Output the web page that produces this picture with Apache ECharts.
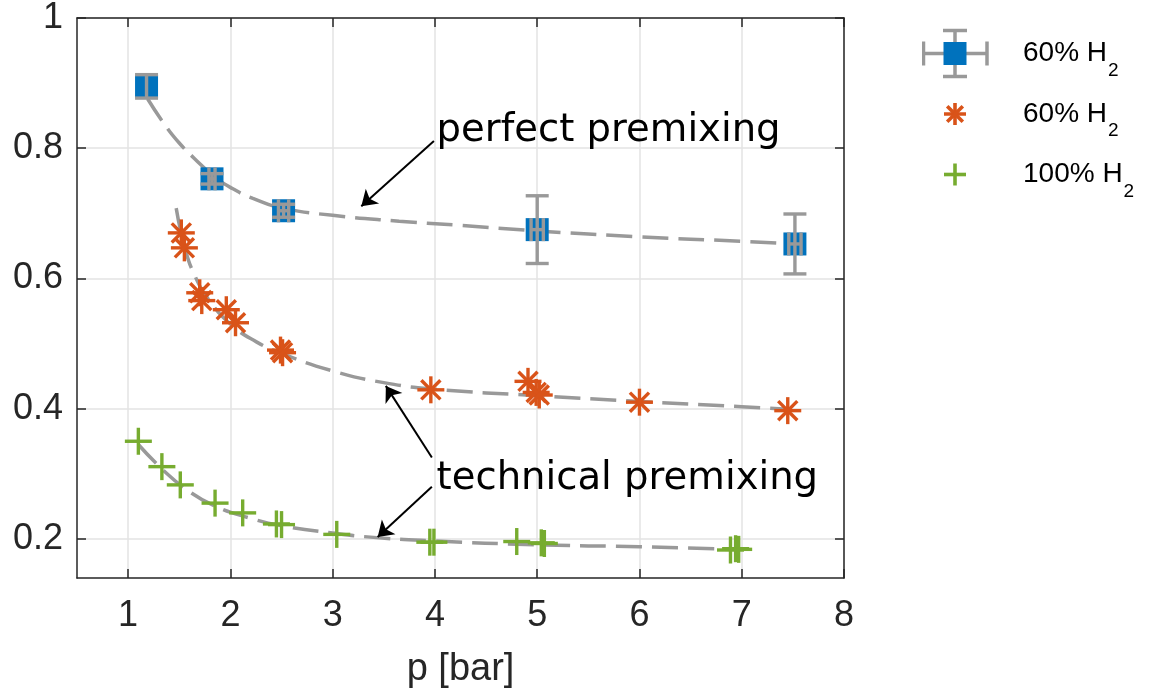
<!DOCTYPE html>
<html><head><meta charset="utf-8">
<script src="https://cdn.jsdelivr.net/npm/echarts@6/dist/echarts.min.js"></script>
<style>html,body{margin:0;padding:0;background:#fff;}#c{width:1159px;height:694px;}</style>
</head><body><div id="c"></div>
<script>
// ---- tick labels ----
const xTicks = [1, 2, 3, 4, 5, 6, 7, 8];
const yTicks = [0.2, 0.4, 0.6, 0.8, 1];

// ---- perfect premixing, 60% H2 (squares with error bars) ----
const perfX    = [1.18, 1.82, 2.52, 5.00, 7.52];
const perfY    = [0.895, 0.753, 0.704, 0.675, 0.653];
const perfXErr = [0.00, 0.03, 0.05, 0.06, 0.06];
const perfYErr = [0.018, 0.008, 0.010, 0.052, 0.046];

// ---- technical premixing, 60% H2 (asterisks) ----
const t60X = [1.52, 1.55, 1.70, 1.72, 1.96, 2.05, 2.49, 2.51, 3.96, 4.91, 4.99, 5.02, 6.00, 7.45];
const t60Y = [0.670, 0.647, 0.578, 0.566, 0.552, 0.532, 0.490, 0.486, 0.429, 0.442, 0.425, 0.421, 0.410, 0.397];

// ---- technical premixing, 100% H2 (pluses) ----
const t100X = [1.10, 1.33, 1.51, 1.85, 2.12, 2.45, 2.50, 3.04, 3.95, 3.99, 4.80, 5.04, 5.07, 6.89, 6.94, 6.97];
const t100Y = [0.350, 0.311, 0.283, 0.255, 0.240, 0.223, 0.222, 0.207, 0.195, 0.195, 0.196, 0.194, 0.193, 0.183, 0.185, 0.184];

// ---- fitted curves ----
const perfFitX = [1.19, 1.35, 1.50, 1.65, 1.83, 2.02, 2.22, 2.51, 3.00, 3.65, 4.20, 5.00, 6.00, 7.00, 7.50];
const perfFitY = [0.876, 0.838, 0.808, 0.784, 0.758, 0.738, 0.723, 0.708, 0.697, 0.688, 0.682, 0.673, 0.664, 0.657, 0.653];
const t60FitX = [1.47, 1.55, 1.65, 1.80, 2.00, 2.25, 2.50, 3.00, 3.50, 4.00, 5.00, 6.00, 7.00, 7.45];
const t60FitY = [0.708, 0.650, 0.605, 0.565, 0.530, 0.503, 0.485, 0.458, 0.440, 0.430, 0.420, 0.411, 0.403, 0.399];
const t100FitX = [1.10, 1.34, 1.57, 1.83, 2.19, 2.51, 3.00, 3.43, 3.98, 5.00, 6.00, 6.97];
const t100FitY = [0.345, 0.306, 0.276, 0.252, 0.232, 0.220, 0.209, 0.202, 0.197, 0.191, 0.188, 0.184];

// ---- annotations ----
const annoTexts = ['perfect premixing', 'technical premixing'];
const annoTextAt = [[4.016, 0.827], [4.016, 0.292]];
const annoArrows = [
  [[3.99, 0.811], [3.28, 0.711]],
  [[3.97, 0.325], [3.52, 0.435]],
  [[3.97, 0.280], [3.44, 0.203]]
];

// ---- legend ----
const seriesNames = ['pp60', 'tp60', 'tp100'];
const legendLabels = ['60% H{s|2}', '60% H{s|2}', '100% H{s|2}'];

const BLUE = '#0072BD', ORANGE = '#D95319', GREEN = '#77AC30', GRAY = '#999999', AX = '#262626';

function zip(a, b) { return a.map((v, i) => [v, b[i]]); }

function svgIcon(inner) {
  return 'image://data:image/svg+xml;charset=utf-8,' + encodeURIComponent(
    '<svg xmlns="http://www.w3.org/2000/svg" width="96" height="53" viewBox="0 0 96 53">' + inner + '</svg>');
}
const iconPerf = svgIcon(
  '<g stroke="' + GRAY + '" stroke-width="3.5" fill="none">' +
  '<line x1="1.5" y1="26.5" x2="65" y2="26.5"/><line x1="1.5" y1="14.5" x2="1.5" y2="38.5"/><line x1="65" y1="14.5" x2="65" y2="38.5"/>' +
  '<line x1="33" y1="3.5" x2="33" y2="49.5"/><line x1="21" y1="3.5" x2="45" y2="3.5"/><line x1="21" y1="49.5" x2="45" y2="49.5"/></g>' +
  '<rect x="21.5" y="15" width="23" height="23" fill="' + BLUE + '"/>');
const iconAst = svgIcon(
  '<g stroke="' + ORANGE + '" stroke-width="3.6">' +
  '<line x1="22" y1="26.5" x2="44" y2="26.5"/><line x1="33" y1="15.5" x2="33" y2="37.5"/>' +
  '<line x1="25.2" y1="18.7" x2="40.8" y2="34.3"/><line x1="25.2" y1="34.3" x2="40.8" y2="18.7"/></g>');
const iconPlus = svgIcon(
  '<g stroke="' + GREEN + '" stroke-width="3.6">' +
  '<line x1="22" y1="26.5" x2="44" y2="26.5"/><line x1="33" y1="15.5" x2="33" y2="37.5"/></g>');
const legendIcons = [iconPerf, iconAst, iconPlus];

function markerItem(kind, color) {
  return function (params, api) {
    const p = api.coord([api.value(0), api.value(1)]);
    const r = 13.5, d = r * 0.7071;
    const style = { stroke: color, lineWidth: 3.4, fill: null };
    const segs = [[-r, 0, r, 0], [0, -r, 0, r]];
    if (kind === 'ast') { segs.push([-d, -d, d, d], [-d, d, d, -d]); }
    return {
      type: 'group',
      children: segs.map(s => ({ type: 'line', shape: { x1: p[0] + s[0], y1: p[1] + s[1], x2: p[0] + s[2], y2: p[1] + s[3] }, style }))
    };
  };
}

function errItem(params, api) {
  const x = api.value(0), y = api.value(1), ex = api.value(2), ey = api.value(3);
  const c = api.coord([x, y]);
  const t = api.coord([x, y + ey]), b = api.coord([x, y - ey]);
  const l = api.coord([x - ex, y]), r = api.coord([x + ex, y]);
  const w = 11.5, h = 11.5;
  const style = { stroke: GRAY, lineWidth: 3.4, fill: null };
  const segs = [
    [c[0], t[1], c[0], b[1]], [c[0] - w, t[1], c[0] + w, t[1]], [c[0] - w, b[1], c[0] + w, b[1]]
  ];
  if (ex > 0) {
    segs.push([l[0], c[1], r[0], c[1]], [l[0], c[1] - h, l[0], c[1] + h], [r[0], c[1] - h, r[0], c[1] + h]);
  }
  return { type: 'group', children: segs.map(s => ({ type: 'line', shape: { x1: s[0], y1: s[1], x2: s[2], y2: s[3] }, style })) };
}

const fitStyle = { color: GRAY, width: 3.5, type: [26, 10] };
function fitSeries(name, xs, ys, extra) {
  return Object.assign({
    name: name, type: 'line', data: zip(xs, ys), showSymbol: false, symbol: 'none',
    smooth: 0.5, lineStyle: fitStyle, z: 2, silent: true, animation: false
  }, extra || {});
}

const axisCommon = {
  axisLine: { show: true, onZero: false, lineStyle: { color: AX, width: 1.5 } },
  axisTick: { show: true, inside: true, length: 9, lineStyle: { color: AX, width: 1.5 } }
};
const tickFont = { fontFamily: 'Liberation Sans', fontSize: 36, color: AX };

const option = {
  animation: false,
  backgroundColor: '#fff',
  grid: { left: 77, right: 315, top: 18, bottom: 115, containLabel: false },
  xAxis: [
    Object.assign({}, axisCommon, {
      type: 'value', min: 0.5, max: 8, position: 'bottom',
      name: 'p [bar]', nameLocation: 'middle', nameGap: 73,
      nameTextStyle: { fontFamily: 'Liberation Sans', fontSize: 38, color: AX },
      axisTick: Object.assign({}, axisCommon.axisTick, { customValues: xTicks }),
      axisLabel: Object.assign({ customValues: xTicks, margin: 20 }, tickFont),
      splitLine: { show: true, lineStyle: { color: '#e3e3e3', width: 1.5 } }
    }),
    Object.assign({}, axisCommon, {
      type: 'value', min: 0.5, max: 8, position: 'top',
      axisTick: Object.assign({}, axisCommon.axisTick, { customValues: xTicks }),
      axisLabel: { show: false, customValues: xTicks },
      splitLine: { show: false }
    })
  ],
  yAxis: [
    Object.assign({}, axisCommon, {
      type: 'value', min: 0.14, max: 1, position: 'left',
      axisTick: Object.assign({}, axisCommon.axisTick, { customValues: yTicks }),
      axisLabel: Object.assign({ customValues: yTicks, margin: 14, formatter: v => String(+v.toFixed(2)) }, tickFont),
      splitLine: { show: true, lineStyle: { color: '#e3e3e3', width: 1.5 } }
    }),
    Object.assign({}, axisCommon, {
      type: 'value', min: 0.14, max: 1, position: 'right',
      axisTick: Object.assign({}, axisCommon.axisTick, { customValues: yTicks }),
      axisLabel: { show: false, customValues: yTicks },
      splitLine: { show: false }
    })
  ],
  legend: {
    orient: 'vertical', left: 922, top: 27, padding: 0, itemWidth: 96, itemHeight: 53, itemGap: 7.5,
    selectedMode: false,
    data: seriesNames.map((n, i) => ({ name: n, icon: legendIcons[i] })),
    formatter: name => legendLabels[seriesNames.indexOf(name)],
    textStyle: {
      fontFamily: 'Liberation Sans', fontSize: 28, color: '#000',
      rich: { s: { fontFamily: 'Liberation Sans', fontSize: 19, color: '#000', padding: [34, 0, 0, 1] } }
    }
  },
  series: [
    fitSeries('fitPerf', perfFitX, perfFitY, {
      markLine: {
        silent: true, animation: false, symbol: ['none', 'arrow'], symbolSize: 15,
        label: { show: false }, lineStyle: { color: '#000', width: 2, type: 'solid' },
        emphasis: { disabled: true },
        data: annoArrows.map(a => [{ coord: a[0] }, { coord: a[1] }])
      }
    }),
    fitSeries('fitT60', t60FitX, t60FitY),
    fitSeries('fitT100', t100FitX, t100FitY),
    { name: 'pp60', type: 'scatter', data: zip(perfX, perfY), symbol: 'rect', symbolSize: 23,
      itemStyle: { color: BLUE, opacity: 1 }, z: 3, silent: true },
    { name: 'pp60', type: 'custom', renderItem: errItem, clip: false, z: 4, silent: true,
      data: perfX.map((x, i) => [x, perfY[i], perfXErr[i], perfYErr[i]]) },
    { name: 'tp60', type: 'custom', renderItem: markerItem('ast', ORANGE), clip: false, z: 5, silent: true,
      itemStyle: { color: ORANGE }, data: zip(t60X, t60Y) },
    { name: 'tp100', type: 'custom', renderItem: markerItem('plus', GREEN), clip: false, z: 5, silent: true,
      itemStyle: { color: GREEN }, data: zip(t100X, t100Y) }
  ]
};

const chart = echarts.init(document.getElementById('c'), null, { renderer: 'canvas' });
chart.setOption(option);
const textEls = annoTexts.map((t, i) => {
  const p = chart.convertToPixel({ gridIndex: 0 }, annoTextAt[i]);
  return { type: 'text', x: p[0], y: p[1], z: 10, silent: true,
    style: { text: t, fontFamily: 'DejaVu Sans', fontSize: 38.6, fill: '#000', align: 'left', verticalAlign: 'middle' } };
});
chart.setOption({ graphic: textEls });
</script>
</body></html>
